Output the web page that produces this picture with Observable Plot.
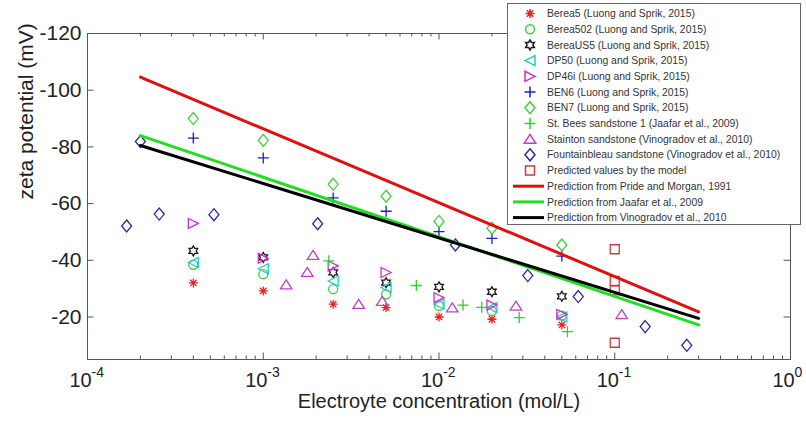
<!DOCTYPE html>
<html>
<head>
<meta charset="utf-8">
<script src="https://cdn.jsdelivr.net/npm/d3@7"></script>
<script src="https://cdn.jsdelivr.net/npm/@observablehq/plot@0.6"></script>
<style>
  html, body { margin: 0; padding: 0; background: #fff; }
  #wrap { position: relative; width: 806px; height: 422px; font-family: "Liberation Sans", Arial, sans-serif; }
  #legend { position: absolute; left: 507px; top: 3px; width: 292px; height: 220px; border: 1px solid #666; background: #fff; }
</style>
</head>
<body>
<div id="wrap"><div id="chart"></div><div id="legend"></div></div>
<script>
// ---------- data ----------
const concLuong = [4e-4, 1e-3, 2.5e-3, 5e-3, 1e-2, 2e-2, 5e-2];
const berea5   = [-32.0, -29.2, -24.5, -23.3, -20.0, -19.2, -17.2];
const berea502 = [-38.4, -35.1, -29.8, -28.0, -23.9, -22.1, -20.5];
const bereaUS5 = [-43.3, -41.0, -35.7, -32.1, -30.6, -28.9, -27.3];
const dp50     = [-39.2, -37.0, -32.7, -30.4, -24.5, -23.3, -20.0];
const dp46i    = [-53.0, -40.7, -38.0, -35.7, -26.8, -24.2, -20.9];
const ben6     = [-83.1, -76.1, -62.0, -57.3, -50.1, -47.7, -41.5];
const ben7     = [-90.0, -82.3, -66.8, -62.6, -53.7, -51.3, -45.4];

const stBeesConc = [2.36e-3, 7.43e-3, 1.37e-2, 1.75e-2, 2.86e-2, 5.38e-2];
const stBeesZeta = [-39.8, -31.1, -24.2, -23.4, -19.8, -14.8];

const staintonConc = [1.35e-3, 1.78e-3, 1.92e-3, 3.49e-3, 4.75e-3, 1.19e-2, 2.74e-2, 0.1096];
const staintonZeta = [-31.4, -35.8, -41.8, -24.5, -25.6, -23.3, -23.9, -20.9];

const fontConc = [1.67e-4, 2e-4, 2.56e-4, 5.24e-4, 2.04e-3, 1.24e-2, 3.2e-2, 6.2e-2, 0.149, 0.257];
const fontZeta = [-52.1, -81.9, -56.3, -56.1, -52.9, -45.4, -34.6, -27.2, -16.6, -10.0];

const predConc = [0.1, 0.1, 0.1, 0.1];
const predZeta = [-43.9, -32.7, -29.4, -10.9];

const lineConc = [2e-4, 0.3];
const pride    = [-104.6, -21.8];
const jaafar   = [-84.0, -17.2];
const vinog    = [-80.5, -19.5];

const xTickExp = [-4, -3, -2, -1, 0];
const yTicks = [-120, -100, -80, -60, -40, -20];

const legendLabels = [
  "Berea5 (Luong and Sprik, 2015)",
  "Berea502 (Luong and Sprik, 2015)",
  "BereaUS5 (Luong and Sprik, 2015)",
  "DP50 (Luong and Sprik, 2015)",
  "DP46i (Luong and Sprik, 2015)",
  "BEN6 (Luong and Sprik, 2015)",
  "BEN7 (Luong and Sprik, 2015)",
  "St. Bees sandstone 1 (Jaafar et al., 2009)",
  "Stainton sandstone (Vinogradov et al., 2010)",
  "Fountainbleau sandstone (Vinogradov et al., 2010)",
  "Predicted values by the model",
  "Prediction from Pride and Morgan, 1991",
  "Prediction from Jaafar et al., 2009",
  "Prediction from Vinogradov et al., 2010"
];

// ---------- symbols (MATLAB-like markers) ----------
const rad = s => Math.sqrt(s / Math.PI);
const symAsterisk = {draw(c, s) { const r = rad(s) * 0.9; for (const a of [0, 45, 90, 135]) { const t = a * Math.PI / 180; c.moveTo(r*Math.cos(t), r*Math.sin(t)); c.lineTo(-r*Math.cos(t), -r*Math.sin(t)); } }};
const symCircle = {draw(c, s) { const r = rad(s) * 0.9; c.moveTo(r, 0); c.arc(0, 0, r, 0, 2*Math.PI); c.closePath(); }};
const symHexagram = {draw(c, s) { const R = rad(s), q = R * 0.577; for (let i = 0; i < 12; i++) { const t = (i * 30 - 90) * Math.PI / 180, rr = i % 2 ? q : R; const X = rr*Math.cos(t), Y = rr*Math.sin(t); i ? c.lineTo(X, Y) : c.moveTo(X, Y); } c.closePath(); }};
const symLeft = {draw(c, s) { const r = rad(s); c.moveTo(-r, 0); c.lineTo(r, -r); c.lineTo(r, r); c.closePath(); }};
const symRight = {draw(c, s) { const r = rad(s); c.moveTo(r, 0); c.lineTo(-r, -r); c.lineTo(-r, r); c.closePath(); }};
const symUp = {draw(c, s) { const r = rad(s); c.moveTo(0, -r*0.95); c.lineTo(r*1.15, r*0.85); c.lineTo(-r*1.15, r*0.85); c.closePath(); }};
const symPlus = {draw(c, s) { const r = rad(s) * 1.1; c.moveTo(-r, 0); c.lineTo(r, 0); c.moveTo(0, -r); c.lineTo(0, r); }};
const symDiamond = {draw(c, s) { const r = rad(s); c.moveTo(0, -r*1.2); c.lineTo(r, 0); c.lineTo(0, r*1.2); c.lineTo(-r, 0); c.closePath(); }};
const symSquare = {draw(c, s) { const r = rad(s) * 0.9; c.moveTo(-r, -r); c.lineTo(r, -r); c.lineTo(r, r); c.lineTo(-r, r); c.closePath(); }};

const series = [
  {conc: concLuong, zeta: berea5,   sym: symAsterisk, color: "#ee2020"},
  {conc: concLuong, zeta: berea502, sym: symCircle,   color: "#3ccc3c"},
  {conc: concLuong, zeta: bereaUS5, sym: symHexagram, color: "#1a1a1a"},
  {conc: concLuong, zeta: dp50,     sym: symLeft,     color: "#20cccc"},
  {conc: concLuong, zeta: dp46i,    sym: symRight,    color: "#cc30cc"},
  {conc: concLuong, zeta: ben6,     sym: symPlus,     color: "#2020b8"},
  {conc: concLuong, zeta: ben7,     sym: symDiamond,  color: "#44cc44"},
  {conc: stBeesConc, zeta: stBeesZeta, sym: symPlus,  color: "#33cc33"},
  {conc: staintonConc, zeta: staintonZeta, sym: symUp, color: "#c040c0"},
  {conc: fontConc, zeta: fontZeta, sym: symDiamond,   color: "#2a2a9a"},
  {conc: predConc, zeta: predZeta, sym: symSquare,    color: "#c04040"}
];
const lines = [
  {zeta: pride,  color: "#e01010"},
  {zeta: jaafar, color: "#22dd22"},
  {zeta: vinog,  color: "#000000"}
];

// ---------- layout ----------
const W = 806, H = 422, mL = 87, mR = 16, mT = 33, mB = 63;
const yMin = -120, yMax = -5;
const yPerPx = (yMax - yMin) / (H - mT - mB);
const decPerPx = 4 / (W - mL - mR);
const majL = 6.5, minL = 3.5;

const xMajor = xTickExp.map(e => 10 ** e);
const xMinor = [];
for (const e of xTickExp.slice(0, -1)) for (let k = 2; k <= 9; k++) xMinor.push(k * 10 ** e);

const tickColor = "#555";
const marks = [];
// ticks (inward, all four sides)
for (const [arr, L] of [[xMajor, majL], [xMinor, minL]]) {
  marks.push(Plot.ruleX(arr, {x: d => d, y1: yMax, y2: yMax - L * yPerPx, stroke: tickColor}));
  marks.push(Plot.ruleX(arr, {x: d => d, y1: yMin, y2: yMin + L * yPerPx, stroke: tickColor}));
}
marks.push(Plot.ruleY(yTicks, {y: d => d, x1: 1e-4, x2: 1e-4 * 10 ** (majL * decPerPx), stroke: tickColor}));
marks.push(Plot.ruleY(yTicks, {y: d => d, x1: 1, x2: 10 ** (-majL * decPerPx), stroke: tickColor}));
marks.push(Plot.frame({stroke: tickColor, strokeWidth: 1}));

// markers
for (const s of series) {
  const rows = s.conc.map((c, i) => ({c, z: s.zeta[i]}));
  marks.push(Plot.dot(rows, {x: "c", y: "z", symbol: s.sym, r: 5, stroke: s.color, fill: "none", strokeWidth: 1.3}));
}
// prediction lines
for (const l of lines) {
  const rows = lineConc.map((c, i) => ({c, z: l.zeta[i]}));
  marks.push(Plot.line(rows, {x: "c", y: "z", stroke: l.color, strokeWidth: 3}));
}

// tick labels
marks.push(Plot.text(yTicks, {x: 1e-4, y: d => d, text: d => String(d), dx: -6, textAnchor: "end", fontSize: 21, fill: "#222"}));
marks.push(Plot.text(xMajor, {x: d => d, y: yMax, text: () => "10", dx: -7, dy: 21, textAnchor: "middle", fontSize: 20, fill: "#222"}));
marks.push(Plot.text(xTickExp, {x: d => 10 ** d, y: yMax, text: d => String(d), dx: 4, dy: 13, textAnchor: "start", fontSize: 14, fill: "#222"}));
// axis titles
marks.push(Plot.text(["Electroyte concentration (mol/L)"], {frameAnchor: "bottom", text: d => d, dy: 48, fontSize: 20, fill: "#222"}));
marks.push(Plot.text(["zeta potential (mV)"], {frameAnchor: "left", text: d => d, dx: -61, dy: 3, rotate: -90, fontSize: 21, fill: "#222"}));

const chart = Plot.plot({
  width: W, height: H,
  marginLeft: mL, marginRight: mR, marginTop: mT, marginBottom: mB,
  style: {fontFamily: "'Liberation Sans', Arial, sans-serif", background: "#fff", overflow: "visible"},
  x: {type: "log", domain: [1e-4, 1], axis: null},
  y: {domain: [yMax, yMin], axis: null},
  marks
});
document.getElementById("chart").appendChild(chart);

// ---------- legend ----------
const lg = d3.select("#legend").append("svg").attr("width", 292).attr("height", 220)
  .style("font-family", "'Liberation Sans', Arial, sans-serif");
const rowY = i => 9.5 + i * 15.7;
const entries = [...series.map(s => ({type: "sym", s})), ...lines.map(l => ({type: "line", l}))];
entries.forEach((e, i) => {
  const y = rowY(i);
  if (e.type === "sym") {
    const p = d3.path(); e.s.sym.draw(p, Math.PI * 25);
    lg.append("path").attr("d", p.toString()).attr("transform", `translate(22,${y})`)
      .attr("fill", "none").attr("stroke", e.s.color).attr("stroke-width", 1.5);
  } else {
    lg.append("line").attr("x1", 5).attr("x2", 36).attr("y1", y).attr("y2", y)
      .attr("stroke", e.l.color).attr("stroke-width", 3);
  }
  lg.append("text").attr("x", 39).attr("y", y).attr("dy", "0.35em")
    .attr("font-size", 10.4).attr("fill", "#333").text(legendLabels[i]);
});
</script>
</body>
</html>
